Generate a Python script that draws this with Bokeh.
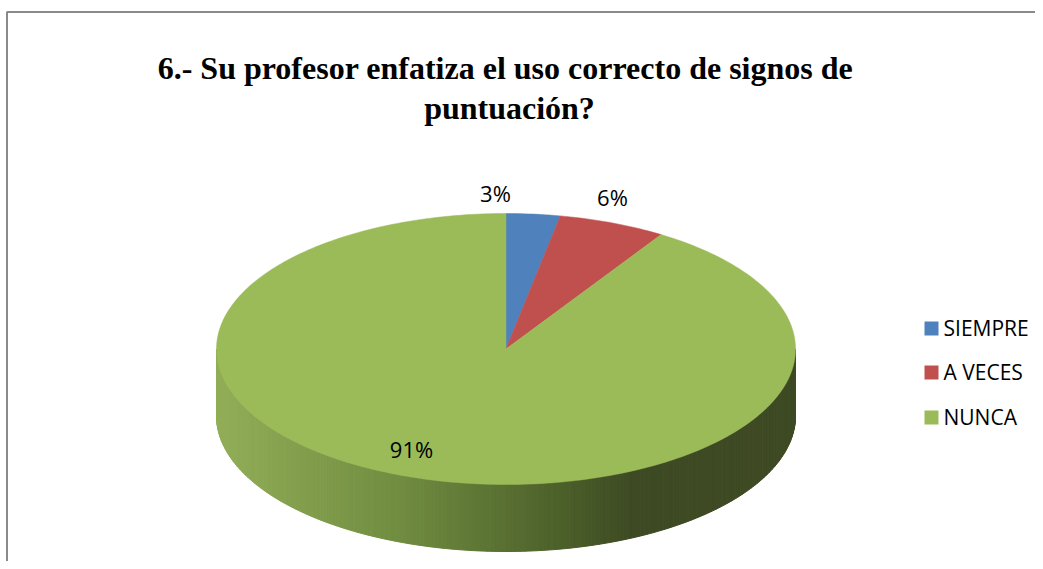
import math
from bokeh.plotting import figure
from bokeh.models import Range1d
from bokeh.core.properties import value
from bokeh.embed import file_html
from bokeh.resources import INLINE

# ---- data ----
categories = ["SIEMPRE", "A VECES", "NUNCA"]
percents = [3, 6, 91]
labels = ["3%", "6%", "91%"]
colors = ["#4F81BD", "#C0504D", "#9BBB59"]
title_lines = ["6.- Su profesor enfatiza el uso correcto de signos de", "puntuación?"]

# ---- layout (screen pixel coordinates) ----
W, H = 1035, 561
CX, CY = 505.5, 348.5
RX, RY = 289.5, 135.5
DEPTH = 67
label_pos = [(495, 192), (612, 196), (411, 448)]
legend_y = [328, 372, 417]
legend_sq_x = 931
legend_tx_x = 943

p = figure(width=W, height=H, x_range=Range1d(0, W), y_range=Range1d(H, 0),
           output_backend="svg", toolbar_location=None, min_border=0)
p.axis.visible = False
p.grid.visible = False
p.outline_line_color = None
p.background_fill_color = "white"
p.border_fill_color = "white"


def pt(theta_deg, dy=0.0):
    t = math.radians(theta_deg)
    return CX + RX * math.sin(t), CY - RY * math.cos(t) + dy


def lerp_color(x):
    stops = [(216, (146, 174, 88)), (400, (112, 140, 64)),
             (560, (76, 96, 42)), (630, (62, 74, 35)), (800, (62, 74, 35))]
    if x <= stops[0][0]:
        c = stops[0][1]
    elif x >= stops[-1][0]:
        c = stops[-1][1]
    else:
        for (x0, c0), (x1, c1) in zip(stops, stops[1:]):
            if x0 <= x <= x1:
                f = (x - x0) / (x1 - x0)
                c = tuple(int(round(a + (b - a) * f)) for a, b in zip(c0, c1))
                break
    return "#%02x%02x%02x" % c


# side wall (front half: clockwise angle 90..270 from top)
N = 240
xs, ys, cs = [], [], []
for i in range(N):
    a0 = 90 + 180 * i / N
    a1 = 90 + 180 * (i + 1) / N
    x0, y0 = pt(a0)
    x1, y1 = pt(a1)
    xs.append([x0, x1, x1, x0])
    ys.append([y0, y1, y1 + DEPTH, y0 + DEPTH])
    cs.append(lerp_color((x0 + x1) / 2))
p.patches(xs, ys, fill_color=cs, line_color=cs, line_width=1)

# top face slices
total = sum(percents)
start = 0.0
sx, sy = [], []
for v in percents:
    span = 360.0 * v / total
    n = max(4, int(span))
    px, py = [CX], [CY]
    for k in range(n + 1):
        x, y = pt(start + span * k / n)
        px.append(x)
        py.append(y)
    sx.append(px)
    sy.append(py)
    start += span
p.patches(sx, sy, fill_color=colors, line_color=colors, line_width=0.5)

# percentage labels
p.text([q[0] for q in label_pos], [q[1] for q in label_pos], text=labels,
       text_font=value("Open Sans"), text_font_size="22px", text_color="#000000",
       text_align="center", text_baseline="alphabetic")

# legend
p.rect([legend_sq_x] * 3, legend_y, width=14, height=14, fill_color=colors, line_color=None)
p.text([legend_tx_x] * 3, [y - 1 for y in legend_y], text=categories,
       text_font=value("Open Sans"), text_font_size="21px", text_color="#000000",
       text_align="left", text_baseline="alphabetic")

# title
p.text([505, 509], [67, 107], text=title_lines,
       text_font=value("Liberation Serif"), text_font_style="bold", text_font_size="32px",
       text_color="#000000", text_align="center", text_baseline="alphabetic")

# chart border (left and top visible)
p.line([6.5, 6.5, W], [H, 11.5, 11.5], line_color="#8a8a8a", line_width=2)

open("out.html", "w").write(file_html(p, INLINE))
